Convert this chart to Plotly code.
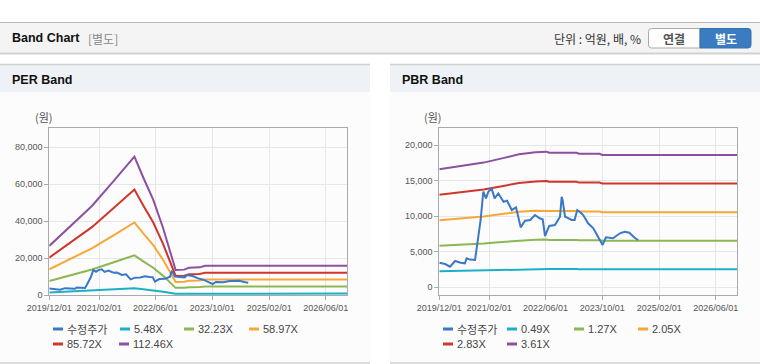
import plotly.graph_objects as go

W, H = 760, 364

# ---------------- data ----------------
price_dates = ['2019-12-01','2020-01-20','2020-03-02','2020-04-15','2020-06-01','2020-07-08','2020-07-23',
               '2020-08-20','2020-10-03','2020-10-20','2020-11-20','2020-12-13','2021-01-05','2021-01-25',
               '2021-02-23','2021-03-20','2021-04-21','2021-06-05','2021-07-05','2021-08-14','2021-09-20',
               '2021-10-30','2021-12-06','2022-01-20','2022-03-02','2022-04-10','2022-05-07','2022-05-27',
               '2022-07-02','2022-08-20','2022-10-03','2022-10-17','2022-10-25','2022-11-15','2023-01-11',
               '2023-02-05','2023-02-28','2023-03-20','2023-04-20','2023-06-01','2023-07-16','2023-08-25',
               '2023-10-04','2023-11-01','2024-01-01','2024-03-01','2024-04-10','2024-05-20','2024-07-10',
               '2024-08-05']
price = [3460, 3270, 2900, 3700, 3460, 3370, 4080,
         3900, 3840, 5700, 9460, 13440, 12500, 13440,
         13900, 12500, 13200, 12030, 12170, 10860, 11240,
         8430, 9360, 9460, 10160, 9700, 9560, 7210,
         8620, 8760, 9930, 12730, 12270, 9930, 9460,
         9460, 10860, 10630, 10160, 9000, 8290, 7110,
         5950, 7030, 6890, 7590, 7810, 7680, 6890,
         6650]

per_dates = ['2019-12-01','2020-06-01','2020-12-01','2021-06-01','2021-12-01','2022-02-15','2022-05-12',
             '2022-08-05','2022-11-20','2023-02-01','2023-03-15','2023-06-15','2023-08-01','2026-12-01']
per_548 = [1293, 1819, 2345, 2987, 3644, 3096, 2504, 1759, 658, 669, 718, 729, 773, 773]
per_3223 = [7606, 10700, 13794, 17565, 21433, 18210, 14729, 10346, 3868, 3932, 4222, 4287, 4544, 4544]
per_5897 = [13917, 19578, 25239, 32139, 39215, 33318, 26949, 18929, 7076, 7194, 7725, 7843, 8315, 8315]
per_8572 = [20230, 28459, 36688, 46717, 57004, 48432, 39174, 27516, 10286, 10458, 11229, 11401, 12087, 12087]
per_11246 = [26541, 37337, 48133, 61291, 74786, 63540, 51394, 36100, 13495, 13720, 14732, 14957, 15857, 15857]

pbr_dates = ['2019-12-01','2020-07-23','2020-12-16','2021-05-22','2021-10-15','2022-03-06','2022-06-10',
             '2022-07-01','2023-02-21','2023-03-15','2023-09-08','2023-10-01','2026-12-01']
pbr_049 = [2254, 2323, 2379, 2460, 2538, 2575, 2587, 2568, 2568, 2548, 2548, 2524, 2524]
pbr_127 = [5842, 6020, 6166, 6375, 6579, 6674, 6706, 6655, 6655, 6604, 6604, 6541, 6541]
pbr_205 = [9430, 9717, 9953, 10291, 10619, 10773, 10824, 10742, 10742, 10660, 10660, 10558, 10558]
pbr_283 = [13018, 13414, 13740, 14207, 14659, 14872, 14942, 14829, 14829, 14716, 14716, 14575, 14575]
pbr_361 = [16606, 17111, 17527, 18122, 18700, 18971, 19061, 18916, 18916, 18772, 18772, 18592, 18592]

x_tickvals = ['2019-12-01', '2021-02-01', '2022-06-01', '2023-10-01', '2025-02-01', '2026-06-01']
x_ticktext = ['2019/12/01', '2021/02/01', '2022/06/01', '2023/10/01', '2025/02/01', '2026/06/01']
per_yticks = [0, 20000, 40000, 60000, 80000]
pbr_yticks = [0, 5000, 10000, 15000, 20000]

per_names = ['수정주가', '5.48X', '32.23X', '58.97X', '85.72X', '112.46X']
pbr_names = ['수정주가', '0.49X', '1.27X', '2.05X', '2.83X', '3.61X']
colors = ['#3a78c8', '#1cb0c6', '#8cb752', '#f5a838', '#d0352b', '#8c50a0']

# ---------------- helpers ----------------
def px(x):
    return x / W

def py(y):
    return 1 - y / H

FONT = 'Liberation Sans, Arial, Noto Sans CJK KR, sans-serif'
KFONT = 'Noto Sans CJK KR, Liberation Sans, sans-serif'

fig = go.Figure()

per_series = [per_548, per_3223, per_5897, per_8572, per_11246]
pbr_series = [pbr_049, pbr_127, pbr_205, pbr_283, pbr_361]

for i, s in enumerate(per_series):
    fig.add_trace(go.Scatter(x=per_dates, y=s, mode='lines', name=per_names[i + 1],
                             line=dict(color=colors[i + 1], width=2), xaxis='x', yaxis='y',
                             showlegend=False, hoverinfo='skip'))
fig.add_trace(go.Scatter(x=price_dates, y=price, mode='lines', name=per_names[0],
                         line=dict(color=colors[0], width=2), xaxis='x', yaxis='y',
                         showlegend=False, hoverinfo='skip'))
for i, s in enumerate(pbr_series):
    fig.add_trace(go.Scatter(x=pbr_dates, y=s, mode='lines', name=pbr_names[i + 1],
                             line=dict(color=colors[i + 1], width=2), xaxis='x2', yaxis='y2',
                             showlegend=False, hoverinfo='skip'))
fig.add_trace(go.Scatter(x=price_dates, y=price, mode='lines', name=pbr_names[0],
                         line=dict(color=colors[0], width=2), xaxis='x2', yaxis='y2',
                         showlegend=False, hoverinfo='skip'))

tickfont = dict(family=FONT, size=9, color='#555555')
common_x = dict(type='date', range=['2019-12-01', '2026-12-01'], tickvals=x_tickvals,
                ticktext=x_ticktext, showgrid=True, gridcolor='#e6e6e6', gridwidth=1,
                showline=True, mirror=True, linecolor='#aaaaaa', linewidth=1,
                ticks='outside', ticklen=4, tickcolor='#aaaaaa', tickfont=tickfont,
                zeroline=False, fixedrange=True, automargin=False)
common_y = dict(showgrid=True, gridcolor='#e6e6e6', gridwidth=1, showline=True, mirror=True,
                linecolor='#aaaaaa', linewidth=1, ticks='outside', ticklen=4,
                tickcolor='#aaaaaa', tickfont=tickfont, tickformat=',', zeroline=False,
                fixedrange=True, automargin=False)

fig.update_layout(
    width=W, height=H, margin=dict(l=0, r=0, t=0, b=0, autoexpand=False),
    paper_bgcolor='white', plot_bgcolor='white', showlegend=False,
    xaxis=dict(domain=[px(49.3), px(347)], anchor='y', **common_x),
    yaxis=dict(domain=[py(295), py(128)], anchor='x', range=[0, 90300],
               tickvals=per_yticks, **common_y),
    xaxis2=dict(domain=[px(439.3), px(737)], anchor='y2', **common_x),
    yaxis2=dict(domain=[py(295), py(128)], anchor='x2', range=[-1080, 22390],
                tickvals=pbr_yticks, **common_y),
    hovermode=False,
)

shapes = []
shapes.append(dict(type='rect', xref='paper', yref='paper', x0=0, x1=1, y0=py(53), y1=py(22),
                   fillcolor='#f4f4f4', line=dict(width=0), layer='below'))
shapes.append(dict(type='line', xref='paper', yref='paper', x0=0, x1=1, y0=py(22.5), y1=py(22.5),
                   line=dict(color='#b8b8b8', width=1)))
shapes.append(dict(type='line', xref='paper', yref='paper', x0=0, x1=1, y0=py(53.5), y1=py(53.5),
                   line=dict(color='#d2d2d2', width=2)))
for (a, b) in [(0, 370), (390, 760)]:
    shapes.append(dict(type='rect', xref='paper', yref='paper', x0=px(a), x1=px(b), y0=py(363), y1=py(92),
                       fillcolor='#fcfcfc', line=dict(width=0), layer='below'))
    shapes.append(dict(type='rect', xref='paper', yref='paper', x0=px(a), x1=px(b), y0=py(92), y1=py(64),
                       fillcolor='#eef2f7', line=dict(width=0), layer='below'))
    shapes.append(dict(type='line', xref='paper', yref='paper', x0=px(a), x1=px(b), y0=py(64.5), y1=py(64.5),
                       line=dict(color='#d0d0d0', width=1.5)))
    shapes.append(dict(type='line', xref='paper', yref='paper', x0=px(a), x1=px(b), y0=py(363), y1=py(363),
                       line=dict(color='#d0d0d0', width=1.5)))


def rounded_path(x0, y0, x1, y1, rl, rr):
    p = []
    p.append(f'M{px(x0 + rl)},{py(y0)}')
    p.append(f'L{px(x1 - rr)},{py(y0)}')
    p.append(f'Q{px(x1)},{py(y0)} {px(x1)},{py(y0 + rr)}')
    p.append(f'L{px(x1)},{py(y1 - rr)}')
    p.append(f'Q{px(x1)},{py(y1)} {px(x1 - rr)},{py(y1)}')
    p.append(f'L{px(x0 + rl)},{py(y1)}')
    p.append(f'Q{px(x0)},{py(y1)} {px(x0)},{py(y1 - rl)}')
    p.append(f'L{px(x0)},{py(y0 + rl)}')
    p.append(f'Q{px(x0)},{py(y0)} {px(x0 + rl)},{py(y0)}')
    p.append('Z')
    return ' '.join(p)


shapes.append(dict(type='path', xref='paper', yref='paper', path=rounded_path(648.5, 28.5, 700, 48, 3, 0),
                   fillcolor='#fdfdfd', line=dict(color='#aaaaaa', width=1)))
shapes.append(dict(type='path', xref='paper', yref='paper', path=rounded_path(700, 28.5, 751, 48, 0, 3),
                   fillcolor='#3b7cc0', line=dict(color='#3570b0', width=1)))

annotations = []


def text(x, y, t, size=12, color='#222', bold=False, anchor='left', family=KFONT):
    if bold:
        t = '<b>' + t + '</b>'
    annotations.append(dict(xref='paper', yref='paper', x=px(x), y=py(y), text=t, showarrow=False,
                            xanchor=anchor, yanchor='middle', borderpad=0,
                            font=dict(family=family, size=size, color=color)))


text(11, 38.5, 'Band Chart', size=12.5, color='#111', bold=True, family=FONT)
text(87, 38.5, '[별도]', size=12, color='#888')
text(642, 38.5, '단위 : 억원, 배, %', size=12, color='#333', anchor='right')
text(674, 38.5, '연결', size=12, color='#555', bold=True, anchor='center')
text(725.5, 38.5, '별도', size=12, color='#ffffff', bold=True, anchor='center')
text(11, 79.5, 'PER Band', size=12.5, color='#111', bold=True, family=FONT)
text(401, 79.5, 'PBR Band', size=12.5, color='#111', bold=True, family=FONT)
text(44, 117, '(원)', size=11, color='#555', anchor='center')
text(433, 117, '(원)', size=11, color='#555', anchor='center')

per_leg = [(66, 329), (133, 329), (197, 329), (262, 329), (66, 344), (132, 344)]
pbr_leg = [(456, 329), (520, 329), (587, 329), (651, 329), (456, 344), (520, 344)]
for names, pos in [(per_names, per_leg), (pbr_names, pbr_leg)]:
    for i, (tx, ty) in enumerate(pos):
        shapes.append(dict(type='line', xref='paper', yref='paper', x0=px(tx - 13), x1=px(tx - 3),
                           y0=py(ty), y1=py(ty), line=dict(color=colors[i], width=3)))
        text(tx, ty, names[i], size=11, color='#444', family=FONT if i else KFONT)

fig.update_layout(shapes=shapes, annotations=annotations)
fig.write_html('out.html', config={'displayModeBar': False},
               post_script="document.body.style.margin='0';document.body.style.overflow='hidden';")
